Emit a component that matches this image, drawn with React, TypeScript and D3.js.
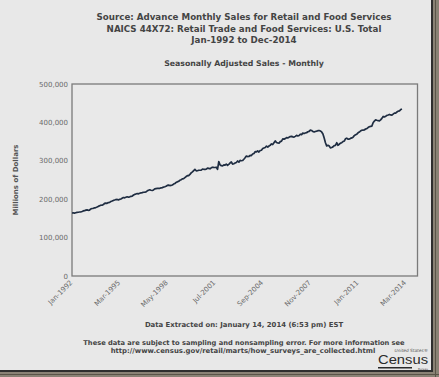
import React from "react";
import * as d3 from "d3";

const startYear = 1992;
const sales: number[] = [
  // 1992
  164100, 164300, 163900, 164800, 165600, 166100, 166600, 167100, 167900, 169400, 170100, 171500,
  // 1993
  172300, 171100, 171400, 174600, 175800, 176300, 177400, 178200, 179500, 181300, 183000, 184400,
  // 1994
  184200, 185900, 189000, 189700, 189300, 191200, 191800, 194100, 195200, 196800, 197900, 199100,
  // 1995
  199300, 198200, 199700, 200600, 202600, 204400, 203600, 205000, 206300, 205200, 206200, 207300,
  // 1996
  208100, 210900, 212500, 213600, 214700, 213900, 215500, 216300, 217000, 218100, 218400, 219200,
  // 1997
  221800, 223500, 224600, 223300, 222700, 224100, 226800, 227700, 228100, 228300, 228400, 229400,
  // 1998
  230100, 231600, 232300, 233800, 235900, 236600, 235500, 236200, 236900, 239300, 240900, 243600,
  // 1999
  245200, 246600, 249300, 250800, 252900, 253700, 256300, 259000, 261200, 261500, 264700, 268600,
  // 2000
  271300, 274600, 277800, 273900, 274100, 275400, 275400, 275800, 278500, 277900, 277600, 278200,
  // 2001
  280900, 280200, 279100, 281800, 283300, 282700, 282600, 283300, 277500, 297800, 289400, 287200,
  // 2002
  286800, 289200, 288500, 291600, 288200, 290700, 294300, 297000, 291500, 292300, 294100, 295700,
  // 2003
  299500, 296300, 301000, 300200, 300700, 304000, 307800, 312500, 311100, 311200, 314200, 313700,
  // 2004
  317800, 319200, 323800, 323100, 326000, 322900, 326800, 327600, 331900, 333400, 334600, 338100,
  // 2005
  335800, 338600, 340200, 343900, 342300, 347100, 351900, 347600, 346300, 346100, 349900, 351200,
  // 2006
  357000, 356400, 357800, 360200, 359600, 361300, 363000, 363800, 362300, 361700, 363600, 366200,
  // 2007
  364700, 365800, 369300, 368000, 372100, 371000, 372300, 373200, 375600, 376500, 380000, 379000,
  // 2008
  376200, 375000, 376400, 377100, 378400, 378800, 377500, 375200, 370000, 359100, 347000, 338600,
  // 2009
  340400, 338500, 333600, 334800, 336200, 339400, 340200, 347000, 340500, 343100, 346000, 347200,
  // 2010
  350000, 351500, 357300, 358800, 356300, 356400, 358300, 359600, 361500, 365600, 367800, 369300,
  // 2011
  372900, 374700, 377600, 379500, 379900, 380300, 382800, 383700, 386500, 388500, 389700, 390400,
  // 2012
  399000, 403500, 406500, 405500, 404800, 403700, 406600, 410500, 415500, 414300, 416200, 418400,
  // 2013
  419300, 420800, 419500, 419000, 421600, 424000, 424300, 427000, 429300, 430000, 433400, 435000,
];

const xTickLabels = ["Jan-1992", "Mar-1995", "May-1998", "Jul-2001", "Sep-2004", "Nov-2007", "Jan-2011", "Mar-2014"];
const yTickValues = [0, 100000, 200000, 300000, 400000, 500000];
const titleLines = [
  "Source: Advance Monthly Sales for Retail and Food Services",
  "NAICS 44X72: Retail Trade and Food Services: U.S. Total",
  "Jan-1992 to Dec-2014",
];
const subtitle = "Seasonally Adjusted Sales - Monthly";
const yTitle = "Millions of Dollars";
const footer1 = "Data Extracted on: January 14, 2014 (6:53 pm) EST";
const footer2 = "These data are subject to sampling and nonsampling error. For more information see";
const footer3 = "http://www.census.gov/retail/marts/how_surveys_are_collected.html";

const W = 439;
const H = 377;
const FONT = "'DejaVu Sans', Verdana, sans-serif";

export default function App() {
  const data = sales.map((v, i) => ({ date: new Date(startYear, i, 1), value: v }));
  const parse = d3.timeParse("%b-%Y");

  const x = d3.scaleTime().domain([new Date(1992, 0, 1), new Date(2014, 11, 1)]).range([72, 417]);
  const y = d3.scaleLinear().domain([0, 500000]).range([276, 84]);
  const line = d3
    .line<{ date: Date; value: number }>()
    .x((d) => x(d.date))
    .y((d) => y(d.value))
    .curve(d3.curveLinear);
  const fmt = d3.format(",");

  return (
    <svg width={W} height={H} style={{ position: "absolute", left: 0, top: 0, display: "block" }} fontFamily={FONT}>
      {/* frame / shadow */}
      <rect x={0} y={0} width={W} height={H} fill="#8a8275" />
      <rect x={0} y={0} width={432} height={371} fill="#e8e8e8" />
      <line x1={432} y1={0} x2={432} y2={371} stroke="#2e2e2e" strokeWidth={2} />
      <line x1={0} y1={371} x2={433} y2={371} stroke="#2e2e2e" strokeWidth={2} />
      <line x1={435.5} y1={0} x2={435.5} y2={H} stroke="#5a5448" strokeWidth={1} />
      <line x1={0} y1={374.5} x2={W} y2={374.5} stroke="#5a5448" strokeWidth={1} />

      {/* titles */}
      {titleLines.map((t, i) => (
        <text key={t} x={244} y={20 + i * 11.5} textAnchor="middle" fontSize={8.7} fontWeight="bold" fill="#444">
          {t}
        </text>
      ))}
      <text x={244} y={66} textAnchor="middle" fontSize={7.8} fontWeight="bold" fill="#444">
        {subtitle}
      </text>

      {/* plot frame */}
      <rect x={72} y={84} width={345.5} height={192} fill="#e9e9e9" stroke="#7a7a7a" strokeWidth={1.3} />

      {/* y axis labels */}
      {yTickValues.map((v) => (
        <text key={v} x={68} y={y(v) + 2.5} textAnchor="end" fontSize={7} fill="#6a6a6a">
          {fmt(v)}
        </text>
      ))}
      <text
        transform={`translate(18,${(84 + 276) / 2}) rotate(-90)`}
        textAnchor="middle"
        fontSize={7}
        fontWeight="bold"
        fill="#555"
      >
        {yTitle}
      </text>

      {/* x axis labels */}
      {xTickLabels.map((l) => {
        const d = parse(l) as Date;
        const px = x(d);
        return (
          <text
            key={l}
            transform={`translate(${px + 1},${283}) rotate(-45)`}
            textAnchor="end"
            fontSize={7}
            fill="#6a6a6a"
          >
            {l}
          </text>
        );
      })}

      {/* data line */}
      <path d={line(data) || ""} fill="none" stroke="#1f2d42" strokeWidth={1.7} strokeLinejoin="round" />

      {/* footers */}
      <text x={244} y={327} textAnchor="middle" fontSize={6.9} fontWeight="bold" fill="#444">
        {footer1}
      </text>
      <text x={244} y={345} textAnchor="middle" fontSize={6.7} fontWeight="bold" fill="#444">
        {footer2}
      </text>
      <text x={243} y={353} textAnchor="middle" fontSize={6.9} fontWeight="bold" fill="#444">
        {footer3}
      </text>

      {/* Census logo */}
      <text x={428} y={352} textAnchor="end" fontSize={4.3} fontStyle="italic" fill="#555">
        United States®
      </text>
      <text x={378} y={364.3} fontSize={12} fill="#2a2a2a" textLength={50} lengthAdjust="spacingAndGlyphs" fontFamily="'Liberation Sans', Arial, sans-serif">
        Census
      </text>
      <rect x={378} y={367} width={34} height={1.5} fill="#2a2a2a" />
      <text x={428} y={369.8} textAnchor="end" fontSize={2.8} fill="#555">
        Bureau
      </text>
    </svg>
  );
}
